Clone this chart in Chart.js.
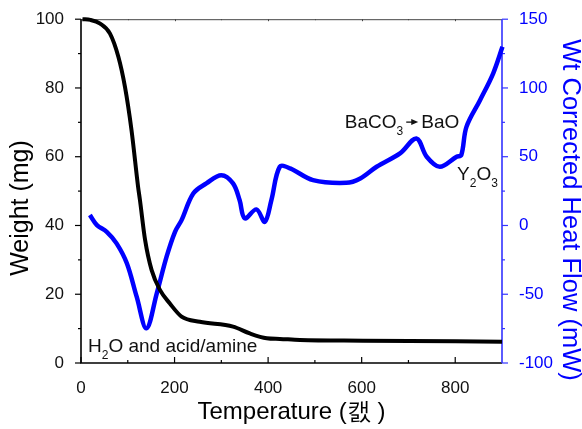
<!DOCTYPE html>
<html>
<head>
<meta charset="utf-8">
<script src="https://cdn.jsdelivr.net/npm/chart.js@4/dist/chart.umd.min.js"></script>
<style>
  html, body { margin: 0; padding: 0; background: #fff; }
  #c { display: block; }
</style>
</head>
<body>
<canvas id="c" width="582" height="429"></canvas>
<script>
// TGA weight curve (left axis)
var weightTemp = [3, 20, 41, 62, 80, 94, 108, 122, 126, 137, 151, 169, 190, 215, 254, 325, 361, 397, 425, 468, 603, 900];
var weightVal  = [100, 99.8, 98.7, 95.8, 89, 80.3, 67.7, 51.3, 47.4, 35.8, 27, 21.2, 17.3, 13.5, 12, 10.6, 8.6, 7.2, 7, 6.7, 6.5, 6.2];

// heat flow curve (right axis)
var flowTemp = [19, 34, 55, 76, 98, 119, 140, 162, 183, 201, 215, 240, 268, 300, 325, 339, 350, 375, 393, 407, 425, 447, 496, 567, 597, 632, 682, 717, 739, 767, 803, 813, 824, 853, 881, 901];
var flowVal  = [7.6, 0.3, -4.6, -13, -27.5, -51.8, -74.8, -49.3, -22.7, -4.6, 3.9, 23.3, 30.6, 36.6, 30.6, 18.5, 5.2, 11.7, 2.7, 18.5, 42.7, 41.5, 33, 31, 34.2, 42.7, 52.4, 63.3, 50, 42.7, 50, 51.2, 71.7, 91.1, 110.5, 129.9];

var xTicks = [0, 200, 400, 600, 800];
var leftTicks = [0, 20, 40, 60, 80, 100];
var rightTicks = [-100, -50, 0, 50, 100, 150];

var FONT = '"Liberation Sans", Arial, sans-serif';
var BLUE = '#0000ff';
var AXBLUE = '#3333ff';

function pts(xs, ys) {
  return xs.map(function (x, i) { return { x: x, y: ys[i] }; });
}

// frame, inward/outward ticks, titles, annotations
var decor = {
  id: 'decor',
  beforeDatasetsDraw: function (chart) {
    var ctx = chart.ctx, a = chart.chartArea;
    var sx = chart.scales.x, sl = chart.scales.y, sr = chart.scales.y2;
    ctx.save();
    // top line
    ctx.strokeStyle = '#444';
    ctx.lineWidth = 1;
    ctx.beginPath(); ctx.moveTo(a.left, a.top + 0.5); ctx.lineTo(a.right, a.top + 0.5); ctx.stroke();
    for (var t = 100; t < 900; t += 100) {
      var px = Math.round(sx.getPixelForValue(t)) + 0.5;
      ctx.beginPath(); ctx.moveTo(px, a.top); ctx.lineTo(px, a.top + (t % 200 === 0 ? 2 : 1)); ctx.stroke();
    }
    // bottom + left axis
    ctx.strokeStyle = '#000';
    ctx.lineWidth = 1.6;
    ctx.beginPath();
    ctx.moveTo(a.left, a.top); ctx.lineTo(a.left, a.bottom); ctx.lineTo(a.right, a.bottom);
    ctx.stroke();
    ctx.lineWidth = 1.2;
    for (var t = 0; t < 900; t += 100) {
      var px = sx.getPixelForValue(t);
      ctx.beginPath(); ctx.moveTo(px, a.bottom); ctx.lineTo(px, a.bottom - (t % 200 === 0 ? 6 : 3)); ctx.stroke();
    }
    for (var v = 0; v <= 100; v += 10) {
      var py = sl.getPixelForValue(v);
      ctx.beginPath(); ctx.moveTo(a.left, py); ctx.lineTo(a.left - (v % 20 === 0 ? 6 : 3), py); ctx.stroke();
    }
    // right axis
    ctx.strokeStyle = AXBLUE;
    ctx.lineWidth = 1.6;
    ctx.beginPath(); ctx.moveTo(a.right, a.top); ctx.lineTo(a.right, a.bottom); ctx.stroke();
    ctx.lineWidth = 1.2;
    for (var v = -100; v <= 150; v += 25) {
      var py = sr.getPixelForValue(v);
      ctx.beginPath(); ctx.moveTo(a.right, py); ctx.lineTo(a.right + (v % 50 === 0 ? 6 : 3), py); ctx.stroke();
    }
    ctx.restore();
  },
  afterDraw: function (chart) {
    var ctx = chart.ctx, a = chart.chartArea;
    var sx = chart.scales.x, sl = chart.scales.y, sr = chart.scales.y2;
    ctx.save();
    ctx.textBaseline = 'alphabetic';

    // axis titles
    ctx.fillStyle = '#000';
    ctx.font = '24px ' + FONT;
    ctx.textAlign = 'center';
    ctx.fillText('Temperature (캜 )', (a.left + a.right) / 2, 419);

    ctx.save();
    ctx.font = '25px ' + FONT;
    ctx.translate(28, 208);
    ctx.rotate(-Math.PI / 2);
    ctx.fillText('Weight (mg)', 0, 0);
    ctx.restore();

    ctx.save();
    ctx.font = '25.5px ' + FONT;
    ctx.fillStyle = BLUE;
    ctx.translate(563, 210);
    ctx.rotate(Math.PI / 2);
    ctx.fillText('Wt Corrected Heat Flow (mW)', 0, 0);
    ctx.restore();

    // annotations with subscripts
    ctx.textAlign = 'left';
    ctx.fillStyle = '#111';
    function run(parts, x, y) {
      parts.forEach(function (p) {
        ctx.font = (p.sub ? '12px ' : '19px ') + FONT;
        ctx.fillText(p.t, x, y + (p.sub ? 7 : 0));
        x += ctx.measureText(p.t).width + (p.gap || 0);
      });
      return x;
    }
    // H2O and acid/amine
    run([{ t: 'H' }, { t: '2', sub: true }, { t: 'O and acid/amine' }],
        sx.getPixelForValue(15), sl.getPixelForValue(3.2));
    // BaCO3 -> BaO
    var bx = run([{ t: 'BaCO' }, { t: '3', sub: true, gap: 3 }],
                 sx.getPixelForValue(564), sr.getPixelForValue(70.8));
    var by = sr.getPixelForValue(70.8) - 6;
    ctx.strokeStyle = '#111';
    ctx.lineWidth = 1.3;
    ctx.beginPath(); ctx.moveTo(bx, by); ctx.lineTo(bx + 7, by); ctx.stroke();
    ctx.beginPath(); ctx.moveTo(bx + 12, by); ctx.lineTo(bx + 5, by - 3); ctx.lineTo(bx + 5, by + 3); ctx.closePath(); ctx.fill();
    run([{ t: 'BaO' }], bx + 15, sr.getPixelForValue(70.8));
    // Y2O3
    run([{ t: 'Y' }, { t: '2', sub: true }, { t: 'O' }, { t: '3', sub: true }],
        sx.getPixelForValue(804), sr.getPixelForValue(33));
    ctx.restore();
  }
};

new Chart(document.getElementById('c'), {
  type: 'line',
  data: {
    datasets: [{
      label: 'Weight',
      data: pts(weightTemp, weightVal),
      yAxisID: 'y',
      borderColor: '#000',
      borderWidth: 4,
      pointRadius: 0,
      cubicInterpolationMode: 'monotone',
      clip: 6
    }, {
      label: 'Heat Flow',
      data: pts(flowTemp, flowVal),
      yAxisID: 'y2',
      borderColor: BLUE,
      borderWidth: 4.5,
      pointRadius: 0,
      tension: 0.35,
      clip: 6
    }]
  },
  options: {
    responsive: false,
    animation: false,
    layout: { padding: { top: 19, left: 0, right: 0, bottom: 0 } },
    plugins: { legend: { display: false }, tooltip: { enabled: false } },
    scales: {
      x: {
        type: 'linear', min: 0, max: 900,
        grid: { display: false }, border: { display: false },
        afterBuildTicks: function (s) { s.ticks = xTicks.map(function (v) { return { value: v }; }); },
        ticks: { color: '#111', font: { family: FONT, size: 17 }, padding: 7, maxRotation: 0 },
        afterFit: function (s) { s.height = 66; }
      },
      y: {
        position: 'left', min: 0, max: 100,
        grid: { display: false }, border: { display: false },
        afterBuildTicks: function (s) { s.ticks = leftTicks.map(function (v) { return { value: v }; }); },
        ticks: { color: '#111', font: { family: FONT, size: 17 }, padding: 9 },
        afterFit: function (s) { s.width = 81; }
      },
      y2: {
        position: 'right', min: -100, max: 150,
        grid: { display: false }, border: { display: false },
        afterBuildTicks: function (s) { s.ticks = rightTicks.map(function (v) { return { value: v }; }); },
        ticks: { color: BLUE, font: { family: FONT, size: 17 }, padding: 9 },
        afterFit: function (s) { s.width = 80; }
      }
    }
  },
  plugins: [decor]
});
</script>
</body>
</html>
